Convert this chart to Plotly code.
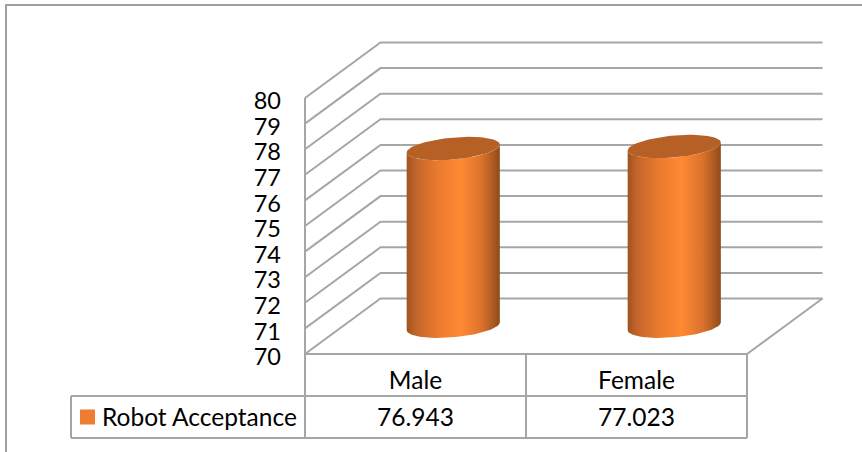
import numpy as np
import plotly.graph_objects as go

categories = ["Male", "Female"]
series_name = "Robot Acceptance"
series_values = [76.943, 77.023]
value_labels = ["76.943", "77.023"]
value_ticks = list(range(70, 81))

# --- pixel layout of the picture, mapped onto the data axes
W, H = 862, 452
PX_CAT = 221.0      # px per category
PX_VAL = 25.6       # px per value unit
X0, Y0 = 305.0, 354.0   # front-left floor corner
XMIN, XMAX = -X0 / PX_CAT, (W - X0) / PX_CAT
YMIN, YMAX = 70 - (H - Y0) / PX_VAL, 70 + Y0 / PX_VAL
DX, DY = 75.5 / PX_CAT, 55.5 / PX_VAL   # depth vector
R1, R2 = 43.8 / PX_CAT, 0.21            # cylinder radii (width, depth)
ROW = 42.0 / PX_VAL
FLOOR = 70
N = len(categories)
GRID = "#a6a6a6"
FONT = "Lato"
FS = 24.5
TICK_FS = 23.5


def proj(c, d, v):
    return c + d * DX, v + d * DY


fig = go.Figure()


def line(xs, ys, color=GRID, width=2):
    fig.add_trace(go.Scatter(x=xs, y=ys, mode="lines", showlegend=False, hoverinfo="skip",
                             line=dict(color=color, width=width, simplify=False)))


# walls and gridlines
for v in value_ticks:
    a, b, c2 = proj(0, 0, v), proj(0, 1, v), proj(N, 1, v)
    line([a[0], b[0], c2[0]], [a[1], b[1], c2[1]])
a, b, c2 = proj(N, 1, FLOOR), proj(N, 0, FLOOR), proj(0, 0, FLOOR)
line([a[0], b[0], c2[0]], [a[1], b[1], c2[1]])
line([0, 0], [value_ticks[0], value_ticks[-1]])

# data table under the floor
r1 = FLOOR - ROW
r2 = FLOOR - 2 * ROW
LEG = -234 / PX_CAT
line([LEG, N], [r1, r1])
line([LEG, N], [r2, r2])
line([LEG, LEG], [r1, r2])
for i in range(N + 1):
    line([i, i], [FLOOR, r2])


# cylinders
def arc(cx, v, t0, t1, n=50):
    t = np.linspace(t0, t1, n)
    x = cx + R1 * np.cos(t) + R2 * DX * np.sin(t)
    y = v + R2 * DY * np.sin(t) * 1.0
    return x, y


ts = np.arctan2(R2 * 75.5, R1 * PX_CAT)
for i, val in enumerate(series_values):
    cx, _ = proj(i + 0.5, 0.5, FLOOR)
    fl = FLOOR + 0.5 * DY
    top = val + 0.5 * DY
    bx, by = arc(cx, fl, ts + np.pi, ts + 2 * np.pi)
    tx, ty = arc(cx, top, ts + 2 * np.pi, ts + np.pi)
    fig.add_trace(go.Scatter(
        x=np.r_[bx, tx, bx[0]], y=np.r_[by, ty, by[0]], mode="lines", fill="toself",
        line=dict(width=0, color="rgba(0,0,0,0)"), showlegend=False, hoverinfo="skip",
        fillgradient=dict(type="horizontal", colorscale=[
            [0.0, "#a0541f"], [0.1, "#c2652a"], [0.33, "#ea7a2f"], [0.58, "#ff8934"],
            [0.8, "#dc722c"], [0.93, "#ab5a21"], [1.0, "#8f4a1b"]])))
    ex, ey = arc(cx, top, 0, 2 * np.pi, 80)
    fig.add_trace(go.Scatter(x=ex, y=ey, mode="lines", fill="toself", fillcolor="#b66026",
                             line=dict(width=0, color="rgba(0,0,0,0)"),
                             showlegend=False, hoverinfo="skip"))

# table text
cat_x = [i + 0.5 for i in range(N)]
fig.add_trace(go.Scatter(x=cat_x, y=[FLOOR - 0.5 * ROW - 0.29] * N, mode="text", text=categories,
                         textfont=dict(family=FONT, size=FS, color="#000000"),
                         showlegend=False, hoverinfo="skip"))
fig.add_trace(go.Scatter(x=cat_x, y=[FLOOR - 1.5 * ROW - 0.12] * N, mode="text", text=value_labels,
                         textfont=dict(family=FONT, size=FS, color="#000000"),
                         showlegend=False, hoverinfo="skip"))
fig.add_trace(go.Scatter(x=[LEG + 16.5 / PX_CAT], y=[FLOOR - 1.5 * ROW], mode="markers",
                         marker=dict(symbol="square", size=15, color="#ed7d31", line=dict(width=0)),
                         showlegend=False, hoverinfo="skip"))
fig.add_trace(go.Scatter(x=[LEG + 31 / PX_CAT], y=[FLOOR - 1.5 * ROW - 0.12], mode="text", text=[series_name],
                         textposition="middle right",
                         textfont=dict(family=FONT, size=FS, color="#000000"),
                         showlegend=False, hoverinfo="skip"))

# chart frame (top and left only)
FT, FL = YMAX - 5 / PX_VAL, XMIN + 6 / PX_CAT
line([FL, FL, XMAX], [YMIN, FT, FT], color="#a0a0a0", width=2)

fig.update_layout(
    width=W, height=H, margin=dict(l=0, r=0, t=0, b=0),
    paper_bgcolor="#ffffff", plot_bgcolor="#ffffff", showlegend=False,
    xaxis=dict(range=[XMIN, XMAX], visible=False, domain=[0, 1], fixedrange=True),
    yaxis=dict(range=[YMIN, YMAX], domain=[0, 1], anchor="free", position=281 / W, side="left",
               showgrid=False, zeroline=False, showline=False, ticks="",
               tickmode="array", tickvals=value_ticks, ticktext=[str(v) for v in value_ticks],
               ticklabelshift=3,
               tickfont=dict(family=FONT, size=TICK_FS, color="#000000"), fixedrange=True),
)
fig.write_html("out.html", config={"displayModeBar": False},
               post_script="document.body.style.margin='0';")
